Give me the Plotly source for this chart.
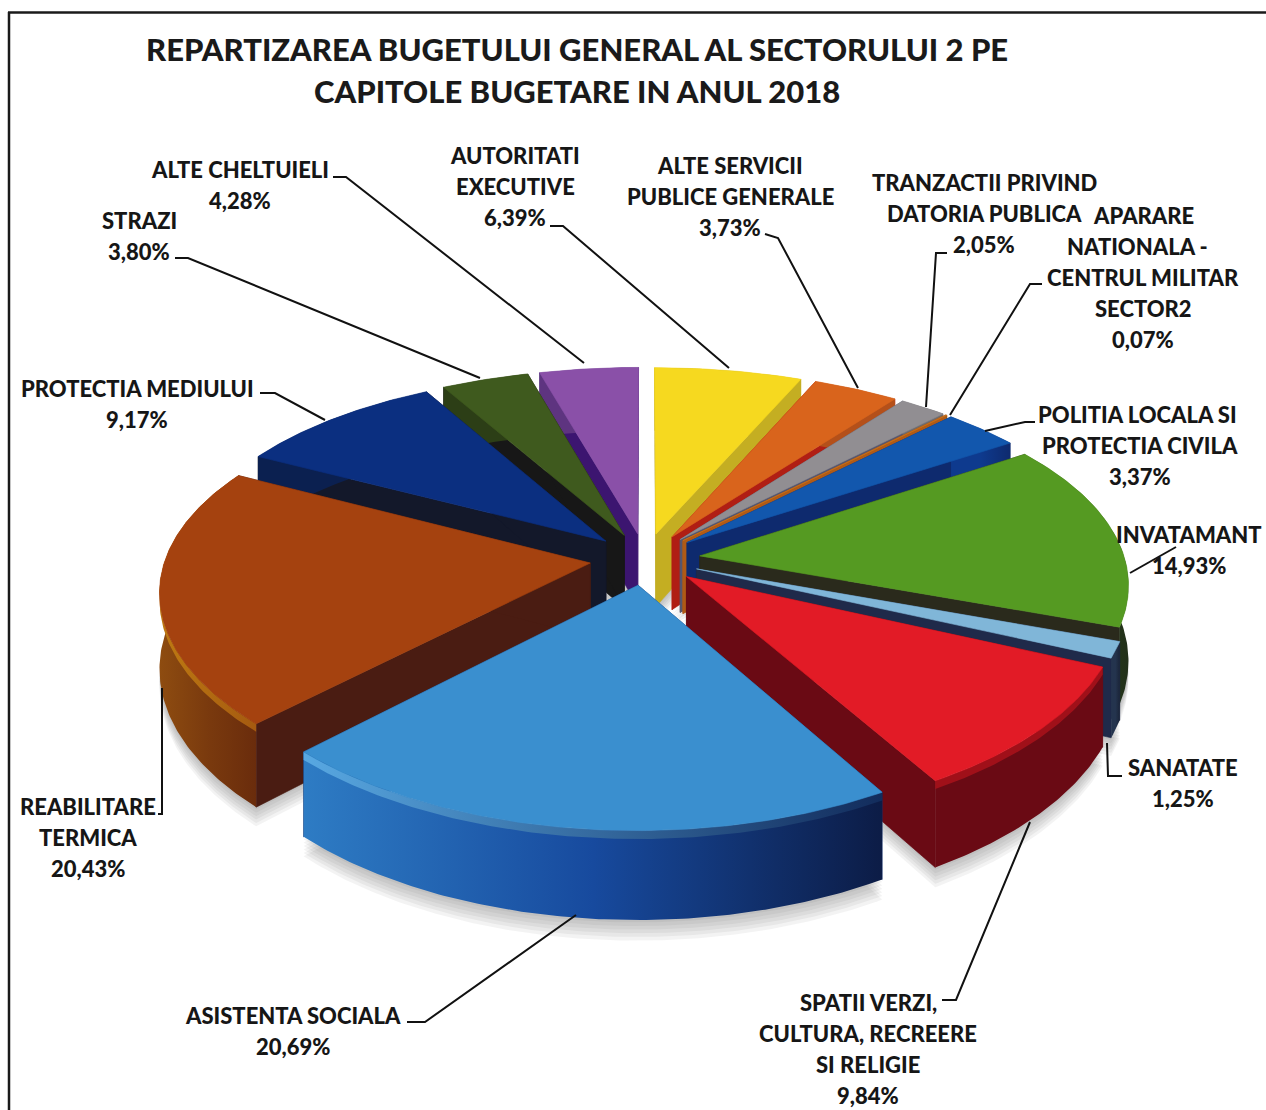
import numpy as np
import plotly.graph_objects as go

# ---------- data ----------
TITLE_LINES = ["REPARTIZAREA BUGETULUI GENERAL AL SECTORULUI 2 PE",
               "CAPITOLE BUGETARE IN ANUL 2018"]
categories = [
    ["AUTORITATI", "EXECUTIVE"],
    ["ALTE SERVICII", "PUBLICE GENERALE"],
    ["TRANZACTII PRIVIND", "DATORIA PUBLICA"],
    ["APARARE", "NATIONALA -", "CENTRUL MILITAR", "SECTOR2"],
    ["POLITIA LOCALA SI", "PROTECTIA CIVILA"],
    ["INVATAMANT"],
    ["SANATATE"],
    ["SPATII VERZI,", "CULTURA, RECREERE", "SI RELIGIE"],
    ["ASISTENTA SOCIALA"],
    ["REABILITARE", "TERMICA"],
    ["PROTECTIA MEDIULUI"],
    ["STRAZI"],
    ["ALTE CHELTUIELI"],
]
values = [6.39, 3.73, 2.05, 0.07, 3.37, 14.93, 1.25, 9.84, 20.69, 20.43, 9.17, 3.80, 4.28]

# ---------- styles ----------
top_colors = ["#F6D91F", "#D9641C", "#918E92", "#C8701A", "#1257AD", "#559A22", "#80B6D8",
              "#E21B26", "#3A8FCF", "#A5420F", "#0B2F80", "#3F5A1E", "#8A50A8"]
side_colors = ["#C4AE22", "#B01E14", "#56566E", "#B05A16", "#0E2A6E", "#2A2A1C", "#1F2A4A",
               "#6A0A14", "#12306E", "#4A1C12", "#13182A", "#171717", "#3C1570"]
wall_left = ["#C4AE22", "#B4501A", "#6E6C70", "#A05A16", "#0E3A8E", "#35551A", "#24344E",
             "#6A0A14", "#2E7CC4", "#8E4C10", "#0B2050", "#2C3E16", "#5E3480"]
wall_mid = ["#C4AE22", "#B4501A", "#6E6C70", "#A05A16", "#0E3A8E", "#2C4416", "#24344E",
            "#6A0A14", "#174A9E", "#7A3A0E", "#0B2050", "#2C3E16", "#5E3480"]
wall_right = ["#C4AE22", "#B4501A", "#6E6C70", "#A05A16", "#0E2A6E", "#22301A", "#1A2438",
              "#6A0A14", "#0C1C46", "#6A2C0C", "#0B2050", "#2C3E16", "#5E3480"]
bevel_left = [None, None, None, None, None, None, None,
              "#A01019", "#58A8E2", "#BE7A12", None, None, None]
bevel_right = [None, None, None, None, None, None, None,
               "#A01019", "#122C5C", "#A55A10", None, None, None]

CX, CY = 645, 559
AX, BY = 425, 199
PX, PY = 0.13, 0.153
EXPLODE = 0.13
HEIGHT = 74
TEXT = "#161616"
FONT = "Lato"


def project(X, Y, dz=0.0):
    X, Y = np.asarray(X, float), np.asarray(Y, float)
    sy = 1 / (1 + PY * Y)
    sx = 1 / (1 + PX * Y)
    return CX + X * AX * sx, CY - Y * BY * sy + dz * sy


def add_poly(fig, px, py, color=None, grad=None, line=None):
    kw = dict(x=px.tolist(), y=py.tolist(), mode="lines", fill="toself",
              hoverinfo="skip", showlegend=False, line=dict(width=0.6, color=line or color or "rgba(0,0,0,0)"))
    if grad is not None:
        kw["fillgradient"] = dict(type="horizontal", colorscale=grad)
        kw["line"] = dict(width=0)
    else:
        kw["fillcolor"] = color
    fig.add_trace(go.Scatter(**kw))


total = sum(values)
edges = np.cumsum([0] + values) / total * 2 * np.pi

slices = []
for i, v in enumerate(values):
    a0, a1 = edges[i], edges[i + 1]
    mid = (a0 + a1) / 2
    ox, oy = EXPLODE * np.sin(mid), EXPLODE * np.cos(mid)
    n = max(3, int(v * 6))
    th = np.linspace(a0, a1, n)
    slices.append(dict(i=i, ox=ox, oy=oy, th=th,
                       arcX=ox + np.sin(th), arcY=oy + np.cos(th)))

fig = go.Figure()

# soft shadow under the slices
for sl in slices:
    X = np.r_[sl["ox"], sl["arcX"], sl["ox"]]
    Y = np.r_[sl["oy"], sl["arcY"], sl["oy"]]
    for shift in (2, 5, 8, 11, 14, 17):
        px, py = project(X, Y, HEIGHT + shift)
        add_poly(fig, px, py, color="rgba(80,80,85,0.07)", line="rgba(0,0,0,0)")

# painter's order: back to front
for sl in sorted(slices, key=lambda s: -s["oy"]):
    i = sl["i"]
    ox, oy, aX, aY = sl["ox"], sl["oy"], sl["arcX"], sl["arcY"]
    atx, aty = project([ox], [oy])
    abx, aby = project([ox], [oy], HEIGHT)
    tx, ty = project(aX, aY)
    bx, by = project(aX, aY, HEIGHT)
    # cut faces
    for k in (0, -1):
        add_poly(fig, np.array([atx[0], tx[k], bx[k], abx[0], atx[0]]),
                 np.array([aty[0], ty[k], by[k], aby[0], aty[0]]), color=side_colors[i])
    # outer wall
    add_poly(fig, np.r_[tx, bx[::-1], tx[0]], np.r_[ty, by[::-1], ty[0]],
             grad=[[0, wall_left[i]], [0.5, wall_mid[i]], [1, wall_right[i]]])
    # bevel on the rim
    if bevel_left[i]:
        rx, ry = project(aX, aY, 7)
        add_poly(fig, np.r_[tx, rx[::-1], tx[0]], np.r_[ty, ry[::-1], ty[0]],
                 grad=[[0, bevel_left[i]], [1, bevel_right[i]]])
    # top face
    add_poly(fig, np.r_[atx, tx, atx], np.r_[aty, ty, aty], color=top_colors[i])

# ---------- leader lines ----------
leaders = [
    ([550, 563, 729], [226, 226, 368]),
    ([765, 778, 858], [234, 238, 388]),
    ([947, 936, 926], [253, 253, 407]),
    ([1042, 1030, 950], [284, 284, 415]),
    ([1035, 1025, 985], [422, 422, 431]),
    ([1176, 1130], [547, 573]),
    ([1107, 1108, 1122], [743, 776, 776]),
    ([942, 956, 1030], [1000, 1000, 822]),
    ([407, 425, 576], [1022, 1022, 915]),
    ([158, 162, 162], [814, 814, 688]),
    ([260, 275, 325], [393, 393, 420]),
    ([175, 188, 480], [258, 258, 378]),
    ([333, 346, 584], [177, 177, 363]),
]
for lx, ly in leaders:
    fig.add_trace(go.Scatter(x=lx, y=ly, mode="lines", hoverinfo="skip", showlegend=False,
                             line=dict(color="#111111", width=2)))

# ---------- labels ----------
label_x = [515, 730, 984, 1143, 1140, 1189, 1183, 868, 293, 88, 137, 139, 240]
label_y = [155, 165, 182, 215, 414, 534, 767, 1002, 1015, 806, 388, 220, 169]
line_nudge = {"NATIONALA -": -6, "POLITIA LOCALA SI": -3}
LINE_H = 31
ann = []
for cat, v, x0, y0 in zip(categories, values, label_x, label_y):
    lines = cat + [f"{v:.2f}".replace(".", ",") + "%"]
    for k, txt in enumerate(lines):
        ann.append(dict(x=x0 + line_nudge.get(txt, 0), y=y0 + k * LINE_H, text=txt, xref="x", yref="y",
                        showarrow=False, xanchor="center", yanchor="middle",
                        font=dict(family=FONT, size=22, color=TEXT, weight=900)))
for txt, y0 in zip(TITLE_LINES, (49, 91)):
    ann.append(dict(x=577, y=y0, text=txt, xref="x", yref="y", showarrow=False,
                    xanchor="center", yanchor="middle",
                    font=dict(family=FONT, size=31, color="#1a1a1a", weight=900)))

frame = dict(color="#1a1a1a", width=2.5)
fig.update_layout(
    width=1266, height=1110, margin=dict(l=0, r=0, t=0, b=0),
    paper_bgcolor="white", plot_bgcolor="white", showlegend=False,
    xaxis=dict(range=[0, 1266], visible=False, fixedrange=True),
    yaxis=dict(range=[1110, 0], visible=False, fixedrange=True),
    annotations=ann,
    shapes=[dict(type="line", xref="x", yref="y", x0=8, y0=12.5, x1=1266, y1=12.5, line=frame, layer="below"),
            dict(type="line", xref="x", yref="y", x0=9, y0=12, x1=9, y1=1110, line=frame, layer="below")],
)
fig.write_html("out.html", config={"displayModeBar": False},
               post_script="document.body.style.margin='0';document.body.style.overflow='hidden';")
